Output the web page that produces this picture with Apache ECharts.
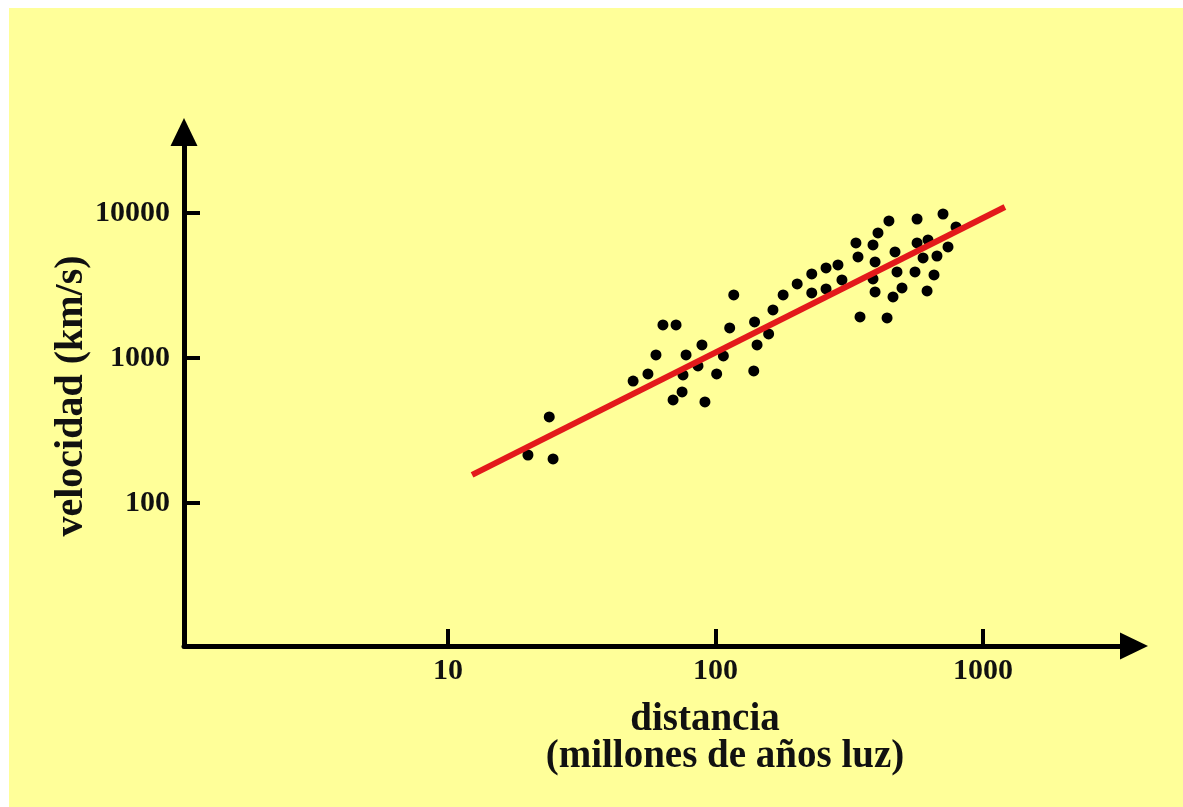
<!DOCTYPE html>
<html><head><meta charset="utf-8">
<script src="https://cdn.jsdelivr.net/npm/echarts@6/dist/echarts.min.js"></script>
<style>html,body{margin:0;padding:0;background:#fff;} #c{position:absolute;left:9px;top:8px;width:1174px;height:799px;}</style>
</head><body><div id="c"></div>
<script>
// distance in millions of light years, velocity in km/s
const distance = [19.9, 24.7, 23.9, 49.2, 55.9, 59.9, 63.6, 71.2, 77.6, 89.0,
  86.0, 75.6, 75.0, 69.4, 91.3, 101, 107, 113, 117, 140,
  143, 139, 158, 164, 179, 202, 229, 229, 259, 259,
  287, 297, 335, 341, 388, 395, 388, 395, 347, 438,
  405, 445, 469, 477, 498, 461, 567, 567, 623, 597,
  673, 557, 656, 618, 709, 793, 740];
const velocity = [214, 201, 392, 693, 776, 1049, 1689, 1689, 1049, 1229,
  881, 763, 583, 513, 497, 776, 1032, 1610, 2720, 1772,
  1229, 813, 1464, 2143, 2720, 3238, 3796, 2808, 4176, 2991,
  4379, 3451, 6211, 4973, 6016, 4594, 3506, 2852, 1918, 1888,
  7279, 8809, 5383, 3918, 3040, 2634, 9091, 6211, 6514, 4894,
  5051, 3918, 3736, 2898, 9842, 8006, 5830];
const fitDistance = [12.3, 1208];
const fitVelocity = [156, 11000];
const xTicks = [10, 100, 1000];
const yTicks = [100, 1000, 10000];
const xTitle1 = 'distancia';
const xTitle2 = '(millones de años luz)';
const yTitle = 'velocidad (km/s)';

const chart = echarts.init(document.getElementById('c'), null, {renderer: 'canvas'});
const labelStyle = {fontFamily: 'Liberation Serif', fontWeight: 'bold', fontSize: 30, color: '#111'};
const axisLineStyle = {show: true, symbol: ['none', 'triangle'], symbolSize: [27, 28],
  lineStyle: {color: '#000', width: 5}};
chart.setOption({
  backgroundColor: '#ffff99',
  animation: false,
  grid: {left: 175, right: 49, top: 124, bottom: 161},
  xAxis: {
    type: 'log', logBase: 10, min: 1.03, max: 3670,
    axisLine: axisLineStyle,
    axisTick: {show: true, inside: true, length: 17, customValues: xTicks, lineStyle: {color: '#000', width: 4}},
    axisLabel: Object.assign({margin: 10, customValues: xTicks, formatter: v => String(Math.round(v))}, labelStyle),
    splitLine: {show: false}
  },
  yAxis: {
    type: 'log', logBase: 10, min: 10.3, max: 36200,
    axisLine: axisLineStyle,
    axisTick: {show: true, inside: true, length: 16, customValues: yTicks, lineStyle: {color: '#000', width: 4}},
    axisLabel: Object.assign({margin: 14, customValues: yTicks, formatter: v => String(Math.round(v))}, labelStyle),
    splitLine: {show: false}
  },
  series: [
    {
      type: 'scatter',
      data: distance.map((d, i) => [d, velocity[i]]),
      symbol: 'circle', symbolSize: 11,
      itemStyle: {color: '#000', opacity: 1},
      z: 2
    },
    {
      type: 'line',
      data: fitDistance.map((d, i) => [d, fitVelocity[i]]),
      symbol: 'none',
      lineStyle: {color: '#e3191b', width: 6},
      z: 3
    }
  ],
  graphic: [
    {type: 'text', x: 63, y: 388, rotation: Math.PI / 2,
      style: {text: yTitle, textAlign: 'center', textVerticalAlign: 'middle',
        font: 'bold 40px "Liberation Serif"', fill: '#111'}},
    {type: 'text', x: 696, y: 712,
      style: {text: xTitle1, textAlign: 'center', textVerticalAlign: 'middle',
        font: 'bold 39px "Liberation Serif"', fill: '#111'}},
    {type: 'text', x: 716, y: 749,
      style: {text: xTitle2, textAlign: 'center', textVerticalAlign: 'middle',
        font: 'bold 39px "Liberation Serif"', fill: '#111'}}
  ]
});
</script></body></html>
